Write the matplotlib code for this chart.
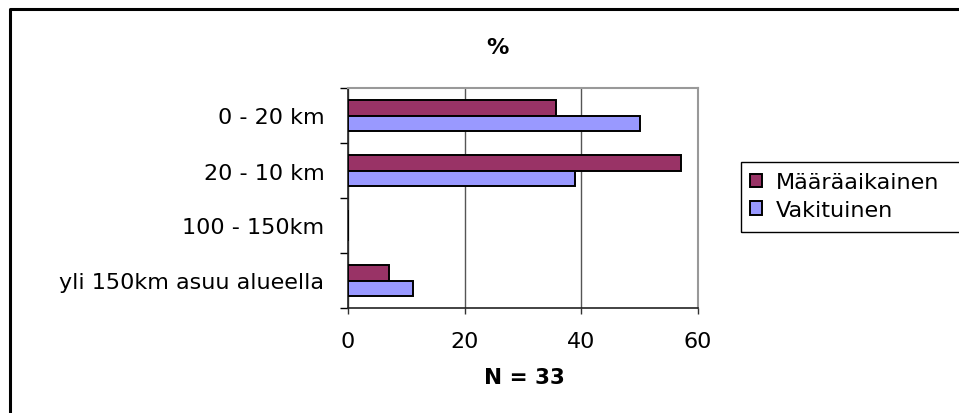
import matplotlib
matplotlib.use("Agg")
import matplotlib.pyplot as plt
from matplotlib.lines import Line2D
from matplotlib.patches import Rectangle
import numpy as np

categories = ["0 - 20 km", "20 - 10 km", "100 - 150km", "yli 150km asuu alueella"]
maaraaikainen = [35.7, 57.1, 0.0, 7.1]
vakituinen = [50.0, 38.9, 0.0, 11.1]
series_names = ["Määräaikainen", "Vakituinen"]
x_ticks = [0, 20, 40, 60]
title = "%"
xlabel = "N = 33"

W, H = 959, 414
plt.rcParams['font.family'] = ['DejaVu Sans']
fig = plt.figure(figsize=(W / 100, H / 100), dpi=100)
fig.patch.set_facecolor("white")

def fx(px):
    return px / W

def fy(py):
    return 1 - py / H

ax = fig.add_axes([fx(348), fy(309), fx(698) - fx(348), fy(89) - fy(309)])

y = np.arange(len(categories))
h = 0.28
b1 = ax.barh(y - h / 2, maaraaikainen, height=h, color="#993366",
             edgecolor="black", linewidth=1.4, zorder=3, label=series_names[0])
b2 = ax.barh(y + h / 2, vakituinen, height=h, color="#9999FF",
             edgecolor="black", linewidth=1.4, zorder=3, label=series_names[1])

ax.set_xlim(0, 60)
ax.set_ylim(len(categories) - 0.5, -0.5)
ax.set_xticks(x_ticks)
ax.set_xticklabels([str(t) for t in x_ticks])
ax.set_yticks(y)
ax.set_yticklabels(categories)
ax.set_yticks(np.arange(-0.5, len(categories), 1.0), minor=True)

ax.tick_params(axis="y", which="major", length=0, pad=17, labelsize=16)
ax.tick_params(axis="y", which="minor", length=5.5, width=1, direction="out", color="black")
ax.tick_params(axis="x", which="major", length=4.5, width=1, direction="out",
               pad=12, labelsize=16, color="#333333")

ax.grid(axis="x", color="#555555", linewidth=1, zorder=1)
ax.set_axisbelow(True)
for side in ["left", "bottom"]:
    ax.spines[side].set_color("#222222")
    ax.spines[side].set_linewidth(1.2)
for side in ["top", "right"]:
    ax.spines[side].set_color("#999999")
    ax.spines[side].set_linewidth(1.5)

fig.text(fx(497), fy(48), title, ha="center", va="center", fontsize=16, fontweight="bold")
fig.text(fx(524), fy(378), xlabel, ha="center", va="center", fontsize=15.5, fontweight="bold")

# legend frame (extends past the right edge, as in the reference)
fig.patches.append(Rectangle((fx(741), fy(233)), fx(260), fy(163) - fy(233),
                             transform=fig.transFigure, fill=False,
                             edgecolor="black", linewidth=1, clip_on=False))
leg = fig.legend(handles=[b1, b2], labels=series_names, loc="center left",
                 bbox_to_anchor=(fx(750), fy(197)), frameon=False, fontsize=16,
                 handlelength=0.55, handleheight=0.55, handletextpad=0.6,
                 labelspacing=0.35, borderpad=0, borderaxespad=0)

# outer chart border (cut at right and bottom)
fig.add_artist(Line2D([fx(9.5), fx(9.5), 1.05], [-0.05, fy(9.5), fy(9.5)],
                      transform=fig.transFigure, color="black", linewidth=2.2))

fig.savefig("out.png", dpi=100, facecolor="white")
